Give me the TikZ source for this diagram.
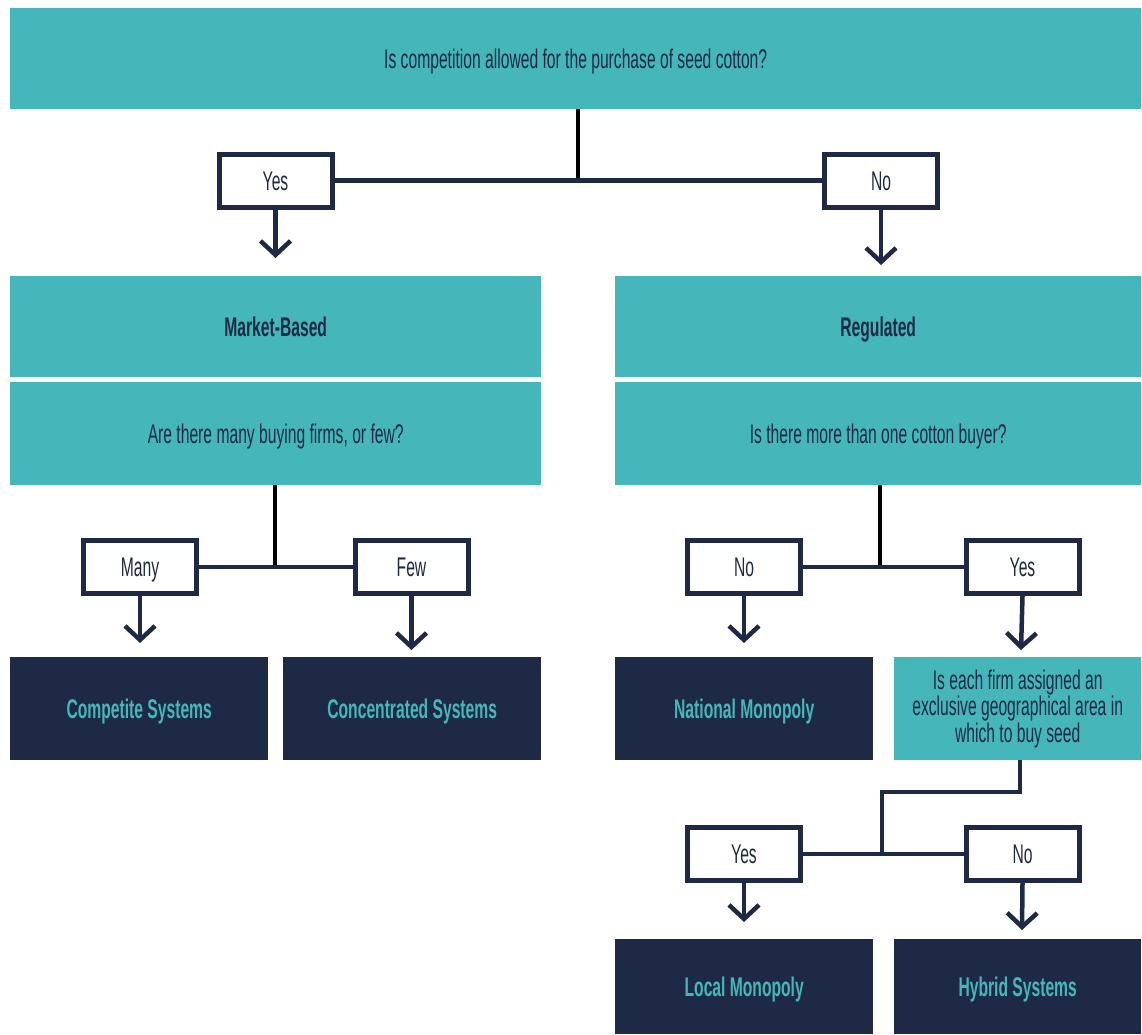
\documentclass[tikz,border=0pt]{standalone}
\usepackage{fontspec}
\setmainfont[FakeStretch=0.58]{Liberation Sans}
\usetikzlibrary{arrows.meta}
\definecolor{tealc}{HTML}{45B7BA}
\definecolor{navyc}{HTML}{1E2A45}
\begin{document}
\begin{tikzpicture}[x=1pt,y=-1pt,
  every node/.style={font=\fontsize{27}{29}\selectfont, inner sep=0pt, align=center},
  oneline/.style={text height=19pt, text depth=0pt},
  tealbox/.style={fill=tealc, text=navyc, anchor=north west},
  navybox/.style={fill=navyc, text=tealc, anchor=north west, oneline, font=\fontsize{27}{29}\selectfont\bfseries},
  labelbox/.style={draw=navyc, line width=5pt, fill=white, text=navyc, minimum width=113pt, minimum height=53pt, oneline},
  conn/.style={draw=navyc, line width=4.5pt},
  stem/.style={draw=black, line width=4.5pt},
  arr/.style={draw=navyc, line width=4.5pt, -{Straight Barb[length=14pt,width=30pt]}}
]
\useasboundingbox (0,0) rectangle (1142,1034);

% top question
\node[tealbox, oneline, minimum width=1131pt, minimum height=101pt] (top) at (10,8)
  {Is competition allowed for the purchase of seed cotton?};

% first level labels
\node[labelbox] (yes1) at (275.5,180.5) {Yes};
\node[labelbox] (no1) at (881,180.5) {No};
\coordinate (j1) at (578,180);
\draw[stem] (top.south -| j1) -- (j1);
\draw[conn] (yes1.east) -- (no1.west);
\coordinate (a1) at (275.5,258);
\coordinate (a2) at (881,265);
\draw[arr] (yes1.south) -- (a1);
\draw[arr] (no1.south) -- (a2);

% Market-based branch
\node[tealbox, oneline, font=\fontsize{27}{29}\selectfont\bfseries, minimum width=531pt, minimum height=101pt] (mkt) at (10,276) {Market-Based};
\node[tealbox, oneline, minimum width=531pt, minimum height=103pt] (mktq) at (10,382) {Are there many buying firms, or few?};
\node[labelbox] (many) at (140,567) {Many};
\node[labelbox] (few) at (411.5,567) {Few};
\coordinate (j2) at (275,565);
\draw[stem] (mktq.south -| j2) -- (j2);
\draw[conn] (many.east) -- (few.west);
\coordinate (a3) at (140,643);
\coordinate (a4) at (411.5,650);
\draw[arr] (many.south) -- (a3);
\draw[arr] (few.south) -- (a4);
\node[navybox, minimum width=258pt, minimum height=103pt] (comp) at (10,657) {Competite Systems};
\node[navybox, minimum width=258pt, minimum height=103pt] (conc) at (283,657) {Concentrated Systems};

% Regulated branch
\node[tealbox, oneline, font=\fontsize{27}{29}\selectfont\bfseries, minimum width=526pt, minimum height=101pt] (reg) at (615,276) {Regulated};
\node[tealbox, oneline, minimum width=526pt, minimum height=103pt] (regq) at (615,382) {Is there more than one cotton buyer?};
\node[labelbox] (no2) at (744,567) {No};
\node[labelbox] (yes2) at (1022.5,567) {Yes};
\coordinate (j3) at (880,565);
\draw[stem] (regq.south -| j3) -- (j3);
\draw[conn] (no2.east) -- (yes2.west);
\coordinate (a5) at (744,643);
\coordinate (a6) at (1021,650);
\draw[arr] (no2.south) -- (a5);
\draw[arr] (yes2.south) -- (a6);
\node[navybox, minimum width=258pt, minimum height=103pt] (natm) at (615,657) {National Monopoly};
\node[tealbox, font=\fontsize{27}{26.5}\selectfont, minimum width=247pt, minimum height=103pt] (areaq) at (894,657)
  {Is each firm assigned an\\exclusive geographical area in\\which to buy seed};

% third level
\node[labelbox] (yes3) at (744,854) {Yes};
\node[labelbox] (no3) at (1022.5,854) {No};
\coordinate (b1) at (1020,792);
\coordinate (j4) at (882,852);
\draw[conn, line join=miter] (areaq.south -| b1) -- (b1) -- (b1 -| j4) -- (j4);
\draw[conn] (yes3.east) -- (no3.west);
\coordinate (a7) at (744,922);
\coordinate (a8) at (1022,930);
\draw[arr] (yes3.south) -- (a7);
\draw[arr] (no3.south) -- (a8);
\node[navybox, minimum width=258pt, minimum height=95pt] (locm) at (615,939) {Local Monopoly};
\node[navybox, minimum width=247pt, minimum height=95pt] (hyb) at (894,939) {Hybrid Systems};
\end{tikzpicture}
\end{document}
